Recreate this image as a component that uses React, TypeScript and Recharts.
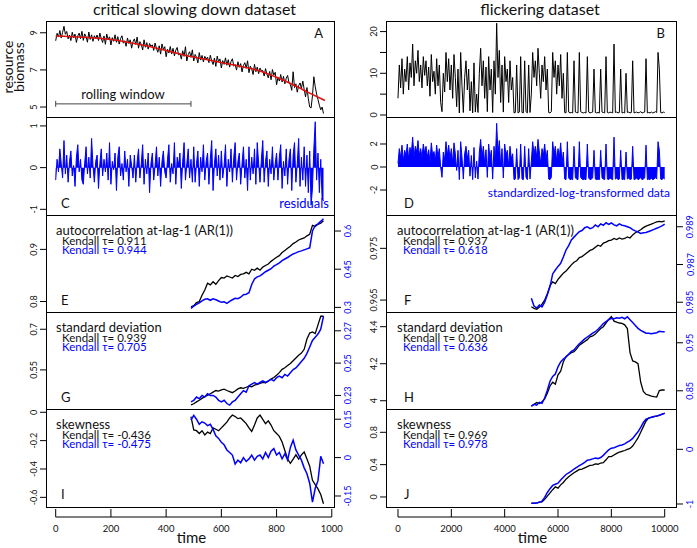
import React from "react";
import { ComposedChart, Line, Area, XAxis, YAxis, ReferenceLine } from "recharts";

const FONT = 'Lato, "DejaVu Sans", sans-serif';
const BLUE = "#0000ff";
const RED = "#dd1111";

// ---- time series ----
// critical slowing down: t = 0, 5, ..., 970
const csdStart = 0;
const csdStep = 5;
const biomass = [
  8.57, 8.97, 8.77, 9.12, 8.72, 9.02, 9.35, 8.92, 9.07, 8.67,
  8.88, 8.58, 9.03, 8.73, 8.93, 8.48, 8.83, 8.98, 8.68, 9.08,
  8.59, 8.94, 8.79, 8.49, 9.04, 8.64, 8.89, 8.54, 8.84, 8.69,
  8.88, 8.58, 8.98, 8.68, 8.48, 8.83, 8.38, 8.93, 8.63, 8.78,
  8.34, 8.74, 8.54, 8.89, 8.49, 8.79, 8.39, 8.69, 8.84, 8.44,
  8.57, 8.27, 8.72, 8.42, 8.62, 8.17, 8.52, 8.67, 8.37, 8.77,
  8.17, 8.52, 8.37, 8.07, 8.62, 8.22, 8.47, 8.12, 8.42, 8.27,
  8.35, 8.05, 8.45, 8.15, 7.95, 8.3, 7.85, 8.4, 8.1, 8.25,
  7.71, 8.11, 7.91, 8.26, 7.86, 8.16, 7.76, 8.06, 8.21, 7.81,
  7.88, 7.58, 8.03, 7.73, 8.25, 7.48, 7.83, 7.98, 7.68, 8.08,
  7.48, 7.83, 7.68, 7.38, 7.93, 7.53, 7.78, 7.43, 7.73, 7.58,
  7.69, 7.39, 7.79, 7.49, 7.29, 7.64, 7.19, 7.74, 7.44, 7.59,
  7.1, 7.5, 7.3, 7.65, 7.25, 7.55, 7.15, 7.45, 7.6, 7.2,
  7.29, 6.99, 7.44, 7.14, 7.34, 6.89, 7.24, 7.39, 7.09, 7.49,
  6.85, 7.2, 7.05, 6.75, 7.3, 6.9, 7.15, 6.8, 7.1, 6.95,
  6.97, 6.67, 7.07, 6.77, 6.57, 6.92, 6.47, 7.02, 6.72, 6.87,
  6.2, 6.6, 6.4, 6.75, 6.35, 6.65, 6.25, 6.55, 6.7, 6.3,
  6.2, 5.9, 6.9, 6.05, 6.25, 5.8, 6.15, 6.3, 6.0, 6.4,
  5.95, 5.55, 6.05, 5.45, 5.0, 4.95, 5.6, 6.63, 6.1, 5.7,
  5.4, 5.1, 4.85, 5.0, 4.65,
];
const trendTime = [0, 100, 200, 300, 400, 475, 550, 650, 730, 800, 860, 920, 975];
const trendValue = [8.83, 8.76, 8.64, 8.38, 8.05, 7.76, 7.55, 7.25, 6.98, 6.6, 6.2, 5.75, 5.35];
const residuals = [
  -0.3, 0.2, -0.1, 0.45, 0.1, -0.25, 0.65, -0.15, 0.3, -0.35,
  0.15, 0.4, -0.2, 0.05, -0.45, 0.25, 0.55, -0.1, 0.2, -0.3,
  -0.4, 0.1, 0.5, -0.15, 0.25, -0.25, 0.7, 0.05, -0.35, 0.15,
  0.3, -0.5, 0.1, 0.45, -0.2, 0.2, -0.1, 0.35, -0.3, 0.6,
  -0.4, 0.15, -0.05, 0.35, -0.55, 0.25, 0.5, -0.2, 0.1, -0.3,
  0.4, -0.1, 0.2, -0.45, 0.3, 0.05, -0.25, 0.3, -0.35, 0.15,
  0.45, -0.25, 0.1, 0.55, -0.4, 0.2, -0.15, 0.35, -0.6, 0.1,
  0.35, -0.3, 0.05, 0.5, -0.2, 0.25, -0.45, 0.15, 0.4, -0.1,
  -0.25, 0.2, 0.55, -0.35, 0.1, -0.15, 0.6, -0.4, 0.25, 0.05,
  0.35, -0.5, 0.15, 0.6, -0.3, 0.1, 0.45, -0.25, 0.2, -0.35,
  0.5, -0.35, 0.1, 0.4, -0.45, 0.25, -0.1, 0.55, -0.3, 0.15,
  0.35, -0.4, 0.2, 0.65, -0.55, 0.1, 0.45, -0.2, 0.3, -0.3,
  0.4, -0.25, 0.05, 0.55, -0.45, 0.2, -0.1, 0.45, -0.35, 0.25,
  0.6, -0.3, 0.15, 0.35, -0.4, 0.1, 0.5, -0.25, 0.2, -0.55,
  0.5, -0.3, 0.25, -0.15, 0.45, -0.4, 0.6, 0.1, -0.35, 0.2,
  0.65, -0.35, 0.15, 0.4, -0.45, 0.2, -0.15, 0.5, -0.3, 0.1,
  0.35, -0.3, 0.25, 0.55, -0.5, 0.15, -0.2, 0.45, -0.4, 0.2,
  0.45, -0.55, 0.3, 0.6, -0.35, 0.1, 0.7, -0.45, 0.25, -0.3,
  0.5, -0.45, 0.3, -0.6, 0.4, -0.9, -0.5, 0.45, 1.1, -0.3,
  0.35, -0.6, 0.2, -0.75, -0.8,
];

// flickering: t = 0, 50, ..., 10000
const flkStart = 0;
const flkStep = 50;
const flickerBiomass = [
  4.0, 12.0, 6.5, 13.5, 5.0, 11.0, 8.0, 14.0, 6.0, 12.5,
  9.0, 17.0, 7.0, 13.0, 10.0, 15.5, 8.0, 12.0, 6.5, 14.0,
  9.5, 13.0, 7.0, 11.5, 4.5, 14.5, 8.0, 10.5, 5.0, 13.5,
  7.0, 12.0, 3.0, 0.8, 10.0, 5.5, 15.0, 8.0, 13.5, 6.0,
  12.0, 4.0, 14.5, 9.0, 2.0, 11.0, 0.5, 15.0, 7.0, 0.6,
  9.0, 13.0, 6.0, 11.0, 1.0, 8.0, 0.5, 12.5, 0.7, 5.0,
  0.6, 10.0, 16.0, 7.0, 13.0, 4.0, 11.5, 0.8, 14.0, 6.0,
  11.0, 0.6, 13.0, 5.0, 22.0, 9.0, 15.5, 3.0, 12.0, 0.7,
  14.0, 8.0, 11.0, 3.0, 13.0, 6.0, 9.0, 0.5, 0.6, 12.0,
  0.5, 0.7, 14.0, 0.6, 0.5, 13.0, 0.8, 0.5, 12.0, 0.6,
  5.0, 15.0, 9.0, 13.0, 7.0, 16.0, 10.0, 4.0, 12.0, 8.0,
  14.0, 6.0, 11.0, 0.6, 0.5, 0.8, 15.0, 9.0, 13.0, 5.0,
  12.0, 7.0, 14.5, 4.0, 10.0, 0.6, 0.5, 15.0, 0.7, 0.5,
  0.6, 0.5, 13.0, 0.7, 0.6, 0.5, 15.0, 0.8, 0.6, 0.5,
  0.6, 0.5, 14.0, 0.7, 0.5, 0.6, 0.7, 11.0, 0.6, 0.5,
  0.6, 0.5, 11.0, 0.7, 0.6, 0.5, 14.0, 0.6, 0.5, 0.7,
  0.6, 0.5, 17.0, 0.6, 0.7, 0.5, 0.6, 11.0, 0.5, 0.6,
  0.5, 10.0, 0.6, 0.7, 0.5, 0.6, 13.0, 0.5, 0.6, 0.7,
  0.5, 0.6, 0.8, 0.5, 0.6, 0.7, 13.5, 0.5, 0.6, 0.5,
  0.7, 0.5, 0.6, 0.8, 0.6, 15.0, 11.0, 0.6, 0.5, 0.7,
  0.6,
];
const standardized = [
  0.3, 1.6, 0.8, 1.9, 0.5, 1.45, 1.0, 2.0, 0.7, 1.7,
  1.15, 2.6, 0.85, 1.8, 1.3, 2.3, 1.0, 1.6, 0.8, 2.0,
  1.2, 1.8, 0.85, 1.5, 0.4, 2.1, 1.0, 1.35, 0.5, 1.9,
  0.85, 1.6, 0.0, -0.9, 1.3, 0.6, 2.2, 1.0, 1.9, 0.7,
  1.6, 0.3, 2.1, 1.15, -0.3, 1.45, -1.1, 2.2, 0.85, -1.05,
  1.15, 1.8, 0.7, 1.45, -0.8, 1.0, -1.1, 1.7, -0.95, 0.5,
  -1.05, 1.3, 2.4, 0.85, 1.8, 0.3, 1.5, -0.9, 2.0, 0.7,
  1.45, -1.05, 1.8, 0.5, 3.8, 1.15, 2.3, 0.0, 1.6, -0.95,
  2.0, 1.0, 1.45, 0.0, 1.8, 0.7, 1.15, -1.1, -1.05, 1.6,
  -1.1, -0.95, 2.0, -1.05, -1.1, 1.8, -0.9, -1.1, 1.6, -1.05,
  0.5, 2.2, 1.15, 1.8, 0.85, 2.4, 1.3, 0.3, 1.6, 1.0,
  2.0, 0.7, 1.45, -1.05, -1.1, -0.9, 2.2, 1.15, 1.8, 0.5,
  1.6, 0.85, 2.1, 0.3, 1.3, -1.05, -1.1, 2.2, -0.95, -1.1,
  -1.05, -1.1, 1.8, -0.95, -1.05, -1.1, 2.2, -0.9, -1.05, -1.1,
  -1.05, -1.1, 2.0, -0.95, -1.1, -1.05, -0.95, 1.45, -1.05, -1.1,
  -1.05, -1.1, 1.45, -0.95, -1.05, -1.1, 2.0, -1.05, -1.1, -0.95,
  -1.05, -1.1, 2.6, -1.05, -0.95, -1.1, -1.05, 1.45, -1.1, -1.05,
  -1.1, 1.3, -1.05, -0.95, -1.1, -1.05, 1.8, -1.1, -1.05, -0.95,
  -1.1, -1.05, -0.9, -1.1, -1.05, -0.95, 1.9, -1.1, -1.05, -1.1,
  -0.95, -1.1, -1.05, -0.9, -1.05, 2.2, 1.45, -1.05, -1.1, -0.95,
  -1.05,
];

// ---- rolling indicators ----
// critical slowing down: t = 490, 500, ..., 970
const csdIndStart = 490;
const csdIndStep = 10;
const ar1Csd = [
  0.79, 0.792, 0.798, 0.8, 0.812, 0.822, 0.835, 0.832, 0.838, 0.833,
  0.84, 0.846, 0.845, 0.849, 0.847, 0.845, 0.85, 0.848, 0.852, 0.853,
  0.856, 0.853, 0.862, 0.86, 0.864, 0.86, 0.866, 0.869, 0.872, 0.877,
  0.881, 0.885, 0.888, 0.894, 0.898, 0.902, 0.906, 0.911, 0.914, 0.918,
  0.92, 0.922, 0.926, 0.929, 0.946, 0.944, 0.948, 0.95, 0.955,
];
const ar1CsdResid = [
  0.296, 0.305, 0.312, 0.318, 0.326, 0.332, 0.334, 0.328, 0.334, 0.33,
  0.325, 0.32, 0.322, 0.316, 0.324, 0.33, 0.336, 0.334, 0.34, 0.35,
  0.352, 0.358, 0.39, 0.412, 0.42, 0.424, 0.432, 0.44, 0.446, 0.452,
  0.462, 0.468, 0.475, 0.484, 0.49, 0.496, 0.503, 0.51, 0.514, 0.519,
  0.522, 0.526, 0.53, 0.534, 0.6, 0.622, 0.628, 0.638, 0.648,
];
const sdCsd = [
  0.421, 0.425, 0.432, 0.438, 0.445, 0.452, 0.456, 0.462, 0.468, 0.474,
  0.472, 0.476, 0.479, 0.474, 0.47, 0.466, 0.472, 0.48, 0.484, 0.482,
  0.486, 0.49, 0.488, 0.494, 0.497, 0.5, 0.504, 0.502, 0.508, 0.516,
  0.522, 0.53, 0.54, 0.552, 0.558, 0.566, 0.574, 0.584, 0.594, 0.604,
  0.612, 0.626, 0.664, 0.686, 0.69, 0.684, 0.716, 0.748, 0.748,
];
const sdCsdResid = [
  0.226, 0.227, 0.229, 0.228, 0.23, 0.229, 0.231, 0.23, 0.23, 0.229,
  0.227, 0.226, 0.227, 0.225, 0.224, 0.226, 0.227, 0.229, 0.231, 0.233,
  0.232, 0.236, 0.237, 0.238, 0.237, 0.238, 0.239, 0.238, 0.239, 0.24,
  0.239, 0.241, 0.242, 0.241, 0.243, 0.242, 0.244, 0.246, 0.247, 0.249,
  0.251, 0.253, 0.256, 0.26, 0.264, 0.266, 0.268, 0.271, 0.279,
];
const skewCsd = [
  -0.031, -0.125, -0.13, -0.15, -0.13, -0.16, -0.14, -0.15, -0.11, -0.12,
  -0.13, -0.11, -0.09, -0.07, -0.04, -0.02, -0.03, -0.045, -0.04, -0.06,
  -0.08, -0.11, -0.135, -0.09, -0.04, -0.02, -0.05, -0.08, -0.06, -0.09,
  -0.13, -0.15, -0.17, -0.21, -0.27, -0.33, -0.36, -0.33, -0.3, -0.33,
  -0.3, -0.28, -0.33, -0.38, -0.48, -0.51, -0.54, -0.58, -0.645,
];
const skewCsdResid = [
  0.146, 0.165, 0.15, 0.13, 0.14, 0.135, 0.125, 0.13, 0.11, 0.085,
  0.075, 0.06, 0.05, 0.03, 0.02, 0.01, -0.025, -0.01, -0.02, 0.0,
  -0.015, -0.005, 0.01, -0.01, 0.005, 0.01, -0.005, 0.02, 0.0, 0.025,
  0.035, 0.01, 0.02, -0.005, 0.015, -0.01, 0.04, 0.068, 0.03, 0.01,
  -0.01, -0.04, -0.063, -0.1, -0.174, -0.12, -0.09, 0.005, -0.024,
];

// flickering: t = 5000, 5100, ..., 10000
const flkIndStart = 5000;
const flkIndStep = 100;
const ar1Flk = [
  0.9637, 0.9634, 0.9632, 0.9636, 0.9642, 0.965, 0.9662, 0.9678, 0.9685, 0.9682,
  0.969, 0.9696, 0.9702, 0.9706, 0.9712, 0.9718, 0.9723, 0.9726, 0.9732, 0.9734,
  0.9738, 0.9742, 0.9746, 0.9748, 0.9752, 0.9756, 0.9754, 0.976, 0.9762, 0.9765,
  0.9766, 0.9769, 0.9767, 0.977, 0.9768, 0.9769, 0.9772, 0.977, 0.9776, 0.978,
  0.9783, 0.9786, 0.979, 0.9793, 0.9795, 0.9797, 0.9799, 0.9801, 0.9802, 0.9801,
  0.9803,
];
const ar1FlkStd = [
  0.98521, 0.9848, 0.9847, 0.98485, 0.98475, 0.985, 0.9854, 0.98583, 0.9865, 0.98671,
  0.9869, 0.98706, 0.9874, 0.98777, 0.988, 0.9883, 0.98845, 0.9886, 0.98874, 0.9888,
  0.98895, 0.989, 0.9889, 0.98895, 0.9891, 0.989, 0.98915, 0.98908, 0.98921, 0.98912,
  0.9892, 0.9891, 0.98905, 0.98915, 0.98908, 0.98905, 0.989, 0.98895, 0.98885, 0.98878,
  0.98872, 0.98865, 0.98868, 0.9887, 0.98875, 0.9888, 0.98886, 0.98892, 0.98898, 0.98905,
  0.98914,
];
const sdFlk = [
  3.97, 3.98, 3.99, 3.985, 3.995, 4.01, 4.04, 4.08, 4.1, 4.09,
  4.14, 4.16, 4.21, 4.24, 4.25, 4.26, 4.265, 4.28, 4.3, 4.31,
  4.32, 4.33, 4.345, 4.35, 4.36, 4.375, 4.39, 4.4, 4.42, 4.44,
  4.455, 4.43, 4.425, 4.42, 4.418, 4.41, 4.39, 4.26, 4.215, 4.21,
  4.2, 4.1, 4.05, 4.035, 4.03, 4.025, 4.022, 4.02, 4.055, 4.058,
  4.058,
];
const sdFlkStd = [
  0.818, 0.822, 0.82, 0.826, 0.824, 0.835, 0.851, 0.87, 0.88, 0.885,
  0.9, 0.91, 0.916, 0.92, 0.926, 0.932, 0.935, 0.942, 0.948, 0.953,
  0.958, 0.962, 0.966, 0.97, 0.973, 0.978, 0.984, 0.99, 0.994, 0.998,
  1.001, 1.0, 1.002, 1.001, 1.003, 1.0, 1.004, 0.998, 0.992, 0.986,
  0.98, 0.976, 0.973, 0.97, 0.97, 0.969, 0.97, 0.971, 0.974, 0.973,
  0.973,
];
const skewFlk = [
  -0.078, -0.075, -0.072, -0.065, -0.06, -0.03, 0.01, 0.05, 0.09, 0.125,
  0.11, 0.15, 0.18, 0.22, 0.25, 0.275, 0.3, 0.32, 0.34, 0.345,
  0.36, 0.375, 0.39, 0.395, 0.41, 0.405, 0.42, 0.425, 0.46, 0.5,
  0.5, 0.52, 0.54, 0.555, 0.565, 0.575, 0.59, 0.6, 0.63, 0.68,
  0.73, 0.8, 0.87, 0.94, 0.975, 0.985, 0.995, 1.0, 1.01, 1.025,
  1.036,
];
const skewFlkStd = [
  -0.987, -0.985, -0.98, -0.97, -0.95, -0.88, -0.79, -0.72, -0.66, -0.64,
  -0.62, -0.56, -0.51, -0.46, -0.43, -0.4, -0.36, -0.33, -0.3, -0.27,
  -0.24, -0.2, -0.19, -0.175, -0.16, -0.17, -0.15, -0.11, -0.06, -0.01,
  0.02, 0.03, 0.05, 0.07, 0.08, 0.1, 0.13, 0.16, 0.2, 0.26,
  0.32, 0.4, 0.49, 0.55, 0.57, 0.585, 0.6, 0.61, 0.625, 0.64,
  0.658,
];

const rollingWindow = [0, 490];
const rollingWindowLevel = 5.17;

const kendall = {
  E: ["0.911", "0.944"], F: ["0.937", "0.618"],
  G: ["0.939", "0.705"], H: ["0.208", "0.636"],
  I: ["-0.436", "-0.475"], J: ["0.969", "0.978"],
};

// ---- layout ----
const ROW_TOPS = [22, 118, 216, 313, 410];
const FRAME_BOTTOM = 507;
const AXIS_GAP = 10; // R draws the x axis a little below the box
const PAD = 18; // room so rotated tick labels can spill past a panel edge
const COLS = [
  { left: 47, width: 287, domain: [-31.5, 1008], ticks: [0, 200, 400, 600, 800, 1000], end: 1000 },
  { left: 387, width: 289, domain: [-412, 10424], ticks: [0, 2000, 4000, 6000, 8000, 10000], end: 10000 },
];
const SIDE = 50;
const TICK_FONT = 9;

const series = (start: number, step: number, vals: number[]) =>
  vals.map((v, i) => ({ t: start + i * step, v }));
const pairs = (start: number, step: number, k: number[], b: number[]) =>
  k.map((v, i) => ({ t: start + i * step, k: v, b: b[i] }));

const leftTick = (labels?: number[]) => (p: any) => {
  const v = p.payload.value;
  if (labels && !labels.includes(v)) return <g />;
  const x = p.x - 0.5;
  return (
    <text x={x} y={p.y} transform={`rotate(-90 ${x} ${p.y})`} textAnchor="middle"
      fontSize={TICK_FONT} fill="#111" fontFamily={FONT}>{String(v)}</text>
  );
};
const rightTick = (p: any) => {
  const x = p.x + 8.5;
  return (
    <text x={x} y={p.y} transform={`rotate(-90 ${x} ${p.y})`} textAnchor="middle"
      fontSize={TICK_FONT} fill={BLUE} fontFamily={FONT}>{String(p.payload.value)}</text>
  );
};
const xTick = (p: any) => (
  <g>
    <line x1={p.x} x2={p.x} y1={p.y - 8} y2={p.y} stroke="#000" />
    <text x={p.x} y={p.y + 15} textAnchor="middle" fontSize={9.5} fill="#111" fontFamily={FONT}>
      {String(p.payload.value)}
    </text>
  </g>
);

type Axis = { domain: number[]; ticks: number[]; labels?: number[] };

function Panel(props: {
  col: number; row: number; data?: any[]; left: Axis; right?: Axis; children: React.ReactNode[];
}) {
  const { col, row, data, left, right, children } = props;
  const c = COLS[col];
  const bottom = row === 4;
  const plotH = (bottom ? FRAME_BOTTOM + AXIS_GAP : ROW_TOPS[row + 1]) - ROW_TOPS[row];
  const ext = (d: number[]) =>
    bottom ? [d[0] - ((d[1] - d[0]) * AXIS_GAP) / (FRAME_BOTTOM - ROW_TOPS[row]), d[1]] : d;
  const leftDomain = ext(left.domain);
  return (
    <div style={{ position: "absolute", left: c.left - SIDE, top: ROW_TOPS[row] - PAD }}>
      <ComposedChart width={SIDE * 2 + c.width} height={PAD + plotH + (bottom ? 31 : PAD)} data={data}
        margin={{ top: PAD, bottom: bottom ? 0 : PAD, left: 0, right: right ? 0 : SIDE }}>
        <XAxis dataKey="t" type="number" domain={c.domain} allowDataOverflow hide={!bottom}
          ticks={c.ticks} interval={0} height={31} tickLine={false} axisLine={false}
          tickSize={0} tickMargin={0} tick={xTick} />
        <YAxis yAxisId="l" orientation="left" type="number" width={SIDE} domain={leftDomain}
          allowDataOverflow ticks={left.ticks} interval={0} tickSize={7} tickMargin={2}
          axisLine={false} tickLine={{ stroke: "#000" }} tick={leftTick(left.labels)} />
        {right && (
          <YAxis yAxisId="r" orientation="right" type="number" width={SIDE} domain={ext(right.domain)}
            allowDataOverflow ticks={right.ticks} interval={0} tickSize={7} tickMargin={2}
            axisLine={false} tickLine={{ stroke: "#000" }} tick={rightTick} />
        )}
        {children}
        {bottom && (
          <ReferenceLine yAxisId="l" ifOverflow="visible" stroke="#000"
            segment={[{ x: 0, y: leftDomain[0] }, { x: c.end, y: leftDomain[0] }]} />
        )}
      </ComposedChart>
    </div>
  );
}

const pairLines = (key: string) => [
  <Line key={key + "k"} yAxisId="l" type="linear" dataKey="k" stroke="#000" strokeWidth={1.3} dot={false} isAnimationActive={false} />,
  <Line key={key + "b"} yAxisId="r" type="linear" dataKey="b" stroke={BLUE} strokeWidth={1.5} dot={false} isAnimationActive={false} />,
];

function Overlay() {
  const t = (x: number, y: number, s: string, size: number, extra: any = {}) => (
    <text x={x} y={y} fontSize={size} fontFamily={FONT} fill="#111" {...extra}>{s}</text>
  );
  const metric = (col: number, row: number, name: string, kd: string[]) => {
    const x = col === 0 ? 56 : 397;
    const y = ROW_TOPS[row];
    return (
      <g key={name + col}>
        {t(x, y + 18.5, name, 13)}
        {t(x + 6, y + 28.5, `Kendall \u03c4= ${kd[0]}`, 11.5)}
        {t(x + 6, y + 38, `Kendall \u03c4= ${kd[1]}`, 11.5, { fill: BLUE })}
      </g>
    );
  };
  const letters = ["A", "C", "E", "G", "I", "B", "D", "F", "H", "J"];
  return (
    <svg width={697} height={548} style={{ position: "absolute", left: 0, top: 0, pointerEvents: "none" }}>
      {COLS.map((c, i) => (
        <g key={i}>
          <rect x={c.left - 0.5} y={ROW_TOPS[0] - 0.5} width={c.width + 1} height={FRAME_BOTTOM - ROW_TOPS[0] + 1}
            fill="none" stroke="#000" />
          {ROW_TOPS.slice(1).map((y) => (
            <line key={y} x1={c.left} x2={c.left + c.width} y1={y - 0.5} y2={y - 0.5} stroke="#000" />
          ))}
          {t(c.left + c.width / 2 + 1, 543, "time", 15, { textAnchor: "middle" })}
        </g>
      ))}
      {t(194.5, 14.5, "critical slowing down dataset", 16, { textAnchor: "middle" })}
      {t(540, 14.5, "flickering dataset", 16, { textAnchor: "middle" })}
      {t(12.5, 67, "resource", 14, { textAnchor: "middle", transform: "rotate(-90 12.5 67)" })}
      {t(23.5, 67, "biomass", 14, { textAnchor: "middle", transform: "rotate(-90 23.5 67)" })}
      {letters.map((L, i) => {
        const col = i < 5 ? 0 : 1;
        const row = i % 5;
        const c = COLS[col];
        if (row === 0) return <g key={L}>{t(c.left + c.width - 11, 37.5, L, 13, { textAnchor: "end" })}</g>;
        const bottomY = row === 4 ? FRAME_BOTTOM : ROW_TOPS[row + 1];
        return <g key={L}>{t(col === 0 ? 61 : 404, bottomY - 8, L, 13)}</g>;
      })}
      {t(123, 99, "rolling window", 13, { textAnchor: "middle" })}
      {t(329, 207.5, "residuals", 13, { textAnchor: "end", fill: BLUE })}
      {t(670, 197, "standardized-log-transformed data", 12, { textAnchor: "end", fill: BLUE })}
      {metric(0, 2, "autocorrelation at-lag-1 (AR(1))", kendall.E)}
      {metric(1, 2, "autocorrelation at-lag-1 (AR(1))", kendall.F)}
      {metric(0, 3, "standard deviation", kendall.G)}
      {metric(1, 3, "standard deviation", kendall.H)}
      {metric(0, 4, "skewness", kendall.I)}
      {metric(1, 4, "skewness", kendall.J)}
    </svg>
  );
}

export default function App() {
  const biomassRows = series(csdStart, csdStep, biomass);
  const trendRows = trendTime.map((t, i) => ({ t, v: trendValue[i] }));
  const residRows = series(csdStart, csdStep, residuals);
  const flkRows = series(flkStart, flkStep, flickerBiomass);
  const stdRows = series(flkStart, flkStep, standardized);
  const capH = 0.16;
  return (
    <div style={{ position: "absolute", left: 0, top: 0, width: 697, height: 548, background: "#fff", fontFamily: FONT, overflow: "hidden" }}>
      <Panel col={0} row={0} left={{ domain: [4.41, 9.58], ticks: [5, 7, 9] }}>
        {[
          <Line key="a" yAxisId="l" data={biomassRows} dataKey="v" type="linear" stroke="#000" strokeWidth={1} dot={false} isAnimationActive={false} />,
          <Line key="tr" yAxisId="l" data={trendRows} dataKey="v" type="monotone" stroke={RED} strokeWidth={1.6} dot={false} isAnimationActive={false} />,
          <ReferenceLine key="rw" yAxisId="l" stroke="#444" ifOverflow="visible"
            segment={[{ x: rollingWindow[0], y: rollingWindowLevel }, { x: rollingWindow[1], y: rollingWindowLevel }]} />,
          <ReferenceLine key="rw0" yAxisId="l" stroke="#444" ifOverflow="visible"
            segment={[{ x: rollingWindow[0], y: rollingWindowLevel - capH }, { x: rollingWindow[0], y: rollingWindowLevel + capH }]} />,
          <ReferenceLine key="rw1" yAxisId="l" stroke="#444" ifOverflow="visible"
            segment={[{ x: rollingWindow[1], y: rollingWindowLevel - capH }, { x: rollingWindow[1], y: rollingWindowLevel + capH }]} />,
        ]}
      </Panel>
      <Panel col={1} row={0} left={{ domain: [-0.72, 22.3], ticks: [0, 5, 10, 15, 20], labels: [0, 10, 20] }}>
        {[<Line key="b" yAxisId="l" data={flkRows} dataKey="v" type="linear" stroke="#000" strokeWidth={1} dot={false} isAnimationActive={false} />]}
      </Panel>
      <Panel col={0} row={1} left={{ domain: [-1.16, 1.19], ticks: [-1, 0, 1] }}>
        {[<Area key="c" yAxisId="l" data={residRows} dataKey="v" type="linear" baseValue={0} stroke={BLUE} strokeWidth={1} fill={BLUE} fillOpacity={1} dot={false} isAnimationActive={false} />]}
      </Panel>
      <Panel col={1} row={1} left={{ domain: [-4.26, 4.26], ticks: [-2, 0, 2] }}>
        {[<Area key="d" yAxisId="l" data={stdRows} dataKey="v" type="linear" baseValue={0} stroke={BLUE} strokeWidth={1} fill={BLUE} fillOpacity={1} dot={false} isAnimationActive={false} />]}
      </Panel>
      <Panel col={0} row={2} data={pairs(csdIndStart, csdIndStep, ar1Csd, ar1CsdResid)}
        left={{ domain: [0.778, 0.964], ticks: [0.8, 0.9] }} right={{ domain: [0.278, 0.659], ticks: [0.3, 0.45, 0.6] }}>
        {pairLines("e")}
      </Panel>
      <Panel col={1} row={2} data={pairs(flkIndStart, flkIndStep, ar1Flk, ar1FlkStd)}
        left={{ domain: [0.9625, 0.98125], ticks: [0.965, 0.975] }} right={{ domain: [0.98443, 0.98957], ticks: [0.985, 0.987, 0.989] }}>
        {pairLines("f")}
      </Panel>
      <Panel col={0} row={3} data={pairs(csdIndStart, csdIndStep, sdCsd, sdCsdResid)}
        left={{ domain: [0.402, 0.76], ticks: [0.55, 0.7] }} right={{ domain: [0.221, 0.281], ticks: [0.23, 0.25, 0.27] }}>
        {pairLines("g")}
      </Panel>
      <Panel col={1} row={3} data={pairs(flkIndStart, flkIndStep, sdFlk, sdFlkStd)}
        left={{ domain: [3.95, 4.474], ticks: [4, 4.2, 4.4] }} right={{ domain: [0.81, 1.012], ticks: [0.85, 0.95] }}>
        {pairLines("h")}
      </Panel>
      <Panel col={0} row={4} data={pairs(csdIndStart, csdIndStep, skewCsd, skewCsdResid)}
        left={{ domain: [-0.668, 0.016], ticks: [-0.6, -0.4, -0.2, 0] }} right={{ domain: [-0.193, 0.186], ticks: [-0.15, 0, 0.15] }}>
        {pairLines("i")}
      </Panel>
      <Panel col={1} row={4} data={pairs(flkIndStart, flkIndStep, skewFlk, skewFlkStd)}
        left={{ domain: [-0.124, 1.076], ticks: [0, 0.4, 0.8] }} right={{ domain: [-1.055, 0.719], ticks: [-1, 0] }}>
        {pairLines("j")}
      </Panel>
      <Overlay />
    </div>
  );
}
